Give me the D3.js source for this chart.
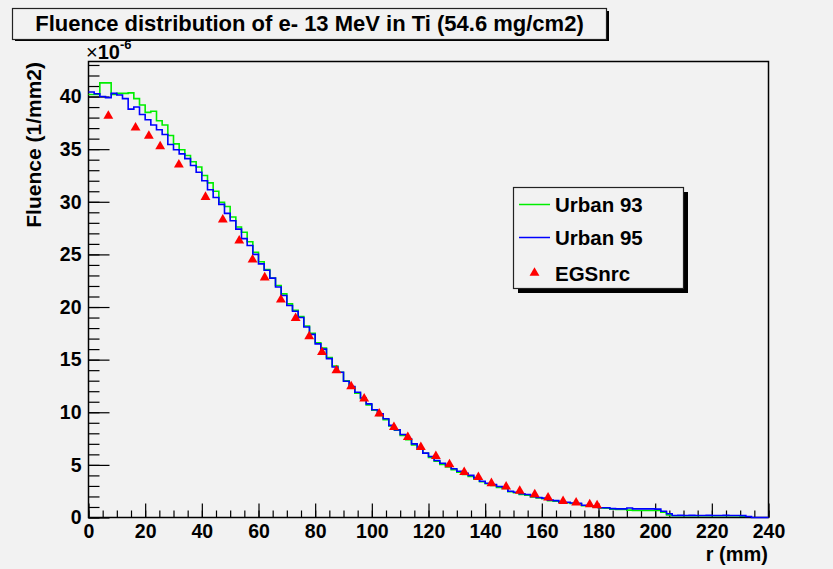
<!DOCTYPE html>
<html>
<head>
<meta charset="utf-8">
<script src="https://cdn.jsdelivr.net/npm/d3@7"></script>
<style>
  html, body { margin: 0; padding: 0; background: #f2f2f2; }
  svg { display: block; }
  text { font-family: "Liberation Sans", Arial, sans-serif; font-weight: bold; fill: #000; }
</style>
</head>
<body>
<svg id="chart" width="833" height="569"></svg>
<script>
// bin width of both histograms (mm)
var binWidth = 2;

// Urban 93 (green) bin contents, x1e-6 /mm2, bins from r = 0
var urban93 = [
  40.2, 40.2, 41.3, 41.3, 40.2, 40.3, 40.3, 40.35, 39.8, 39.2,
  38.5, 38.6, 37.7, 37.3, 36.3, 35.5, 34.95, 34.4, 33.8, 33.3,
  32.5, 31.8, 31.0, 29.95, 29.55, 28.55, 27.6, 27.1, 26.2, 25.2,
  24.3, 23.55, 22.75, 22.05, 21.25, 20.3, 19.7, 19.1, 18.2, 17.5,
  16.6, 16.1, 15.2, 14.4, 13.8, 13.0, 12.4, 11.8, 11.3, 10.7,
  10.2, 9.7, 9.3, 8.7, 8.3, 7.8, 7.4, 6.9, 6.5, 6.1,
  5.7, 5.35, 5.05, 4.8, 4.55, 4.3, 4.1, 3.9, 3.65, 3.4,
  3.2, 3.05, 2.85, 2.75, 2.45, 2.35, 2.2, 2.12, 1.95, 1.85,
  1.78, 1.6, 1.55, 1.45, 1.4, 1.33, 1.3, 1.12, 1.08, 1.0,
  0.9, 0.88, 0.78, 0.76, 0.76, 0.7, 0.67, 0.67, 0.67, 0.67,
  0.66, 0.5, 0.25, 0.17, 0.17, 0.17, 0.17, 0.17, 0.17, 0.17,
  0.17, 0.17, 0.17, 0.17, 0.17, 0.12
];

// Urban 95 (blue) bin contents
var urban95 = [
  40.43, 40.27, 40.0, 39.9, 40.3, 40.15, 39.8, 38.8, 39.0, 38.3,
  37.8, 37.3, 36.85, 36.4, 35.45, 34.95, 34.55, 34.1, 33.45, 32.8,
  32.0, 31.15, 30.4, 29.75, 28.9, 28.2, 27.4, 26.5, 25.85, 25.0,
  24.1, 23.5, 22.75, 21.9, 21.1, 20.15, 19.6, 19.0, 18.1, 17.4,
  16.5, 16.0, 15.1, 14.3, 13.8, 12.95, 12.45, 11.9, 11.35, 10.8,
  10.24, 9.86, 9.38, 8.75, 8.33, 7.89, 7.48, 7.0, 6.62, 6.12,
  5.8, 5.42, 5.16, 4.94, 4.63, 4.4, 4.21, 4.0, 3.77, 3.45,
  3.26, 3.14, 2.95, 2.88, 2.5, 2.4, 2.25, 2.19, 2.0, 1.9,
  1.84, 1.65, 1.6, 1.48, 1.45, 1.38, 1.35, 1.16, 1.12, 1.05,
  0.93, 0.92, 0.84, 0.82, 0.82, 0.9, 0.82, 0.82, 0.82, 0.82,
  0.8, 0.6, 0.35, 0.19, 0.2, 0.19, 0.2, 0.19, 0.19, 0.2,
  0.19, 0.19, 0.2, 0.19, 0.19, 0.18, 0.1, 0, 0, 0
];

// EGSnrc points
var egsR = [7, 16.6, 21.3, 25.3, 31.9, 41.3, 47.4, 53.2, 57.9, 62.2,
  67.9, 73.1, 77.9, 82.4, 87.5, 92.7, 97.3, 102.6, 107.8, 112.7,
  117.3, 122.6, 127.4, 132.6, 137.6, 142.2, 147.4, 152.2, 157.5, 162.2,
  167.5, 172.1, 176.9, 179.5];
var egsF = [38.15, 37.04, 36.25, 35.27, 33.53, 30.45, 28.3, 26.3, 24.5, 22.8,
  20.7, 18.95, 17.2, 15.7, 13.97, 12.45, 11.3, 9.86, 8.58, 7.63,
  6.68, 5.82, 5.04, 4.31, 3.83, 3.25, 2.92, 2.52, 2.2, 1.88,
  1.55, 1.4, 1.24, 1.14];

var xTicks = [0, 20, 40, 60, 80, 100, 120, 140, 160, 180, 200, 220, 240];
var yTicks = [0, 5, 10, 15, 20, 25, 30, 35, 40];

var svg = d3.select("#chart");

var x = d3.scaleLinear().domain([0, 240]).range([88.5, 768.5]);
var y = d3.scaleLinear().domain([0, 43.33]).range([517.5, 61.5]);

// title box with shadow
svg.append("rect").attr("x", 15).attr("y", 11).attr("width", 594).attr("height", 30).attr("fill", "#000");
svg.append("rect").attr("x", 12.5).attr("y", 8.5).attr("width", 594).attr("height", 31)
  .attr("fill", "#f2f2f2").attr("stroke", "#222").attr("stroke-width", 1.2);
svg.append("text").attr("x", 309.5).attr("y", 31).attr("text-anchor", "middle")
  .style("font-size", "22px").text("Fluence distribution of e- 13 MeV in Ti (54.6 mg/cm2)");

// exponent label
var ex = svg.append("text").attr("x", 86).attr("y", 59).style("font-size", "20px");
ex.append("tspan").style("font-weight", "normal").text("\u00d7");
ex.append("tspan").text("10");
ex.append("tspan").attr("dy", -10).style("font-size", "13px").text("-6");

// axes (ROOT style ticks pointing inside)
var gy = svg.append("g").attr("transform", "translate(" + x(0) + ",0)");
gy.call(d3.axisLeft(y).tickValues(d3.range(0, 44, 1)).tickSize(-11).tickFormat(""));
gy.append("g").call(d3.axisLeft(y).tickValues(yTicks).tickSize(-21).tickPadding(7).tickFormat(d3.format("d")));
var gx = svg.append("g").attr("transform", "translate(0," + y(0) + ")");
gx.call(d3.axisBottom(x).tickValues(d3.range(0, 241, 5)).tickSize(-7).tickFormat(""));
gx.append("g").call(d3.axisBottom(x).tickValues(xTicks).tickSize(-14).tickPadding(6.5).tickFormat(d3.format("d")));
svg.selectAll(".domain").remove();
svg.selectAll(".tick line").attr("stroke", "#000").attr("stroke-width", 1.2);
svg.selectAll(".tick text").style("font-size", "19.5px").style("font-family", "Liberation Sans, Arial, sans-serif");

// frame
svg.append("rect").attr("x", x(0)).attr("y", y(43.33)).attr("width", x(240) - x(0)).attr("height", y(0) - y(43.33))
  .attr("fill", "none").attr("stroke", "#000").attr("stroke-width", 1.5);

// axis titles
svg.append("text").attr("transform", "translate(41,62) rotate(-90)").attr("text-anchor", "end")
  .style("font-size", "21px").text("Fluence (1/mm2)");
svg.append("text").attr("x", 768).attr("y", 560.5).attr("text-anchor", "end")
  .style("font-size", "20px").text("r (mm)");

// histograms as steps
function stepPoints(vals) {
  var pts = vals.map(function(v, i) { return [i * binWidth, v]; });
  pts.push([vals.length * binWidth, vals[vals.length - 1]]);
  return pts;
}
var line = d3.line().x(function(d) { return x(d[0]); }).y(function(d) { return y(d[1]); }).curve(d3.curveStepAfter);

svg.append("path").attr("d", line(stepPoints(urban93))).attr("fill", "none").attr("stroke", "#00ee00").attr("stroke-width", 1.6);
svg.append("path").attr("d", line(stepPoints(urban95))).attr("fill", "none").attr("stroke", "#0000ff").attr("stroke-width", 1.6);

var tri = d3.symbol().type(d3.symbolTriangle).size(42);
svg.append("g").selectAll("path").data(egsR).join("path")
  .attr("transform", function(d, i) { return "translate(" + x(d) + "," + y(egsF[i]) + ")"; })
  .attr("d", tri).attr("fill", "#ff0000");

// legend
var lg = svg.append("g");
lg.append("rect").attr("x", 518).attr("y", 192).attr("width", 170).attr("height", 101).attr("fill", "#000");
lg.append("rect").attr("x", 513.5).attr("y", 187.5).attr("width", 170).attr("height", 101)
  .attr("fill", "#f2f2f2").attr("stroke", "#222").attr("stroke-width", 1.2);
lg.append("line").attr("x1", 519).attr("x2", 550).attr("y1", 204.5).attr("y2", 204.5).attr("stroke", "#00ee00").attr("stroke-width", 1.5);
lg.append("line").attr("x1", 519).attr("x2", 550).attr("y1", 237.5).attr("y2", 237.5).attr("stroke", "#0000ff").attr("stroke-width", 1.5);
lg.append("path").attr("transform", "translate(534.5,273)").attr("d", tri).attr("fill", "#ff0000");
lg.append("text").attr("x", 555).attr("y", 212).style("font-size", "20.5px").text("Urban 93");
lg.append("text").attr("x", 555).attr("y", 245).style("font-size", "20.5px").text("Urban 95");
lg.append("text").attr("x", 555).attr("y", 280.5).style("font-size", "20.5px").text("EGSnrc");
</script>
</body>
</html>
